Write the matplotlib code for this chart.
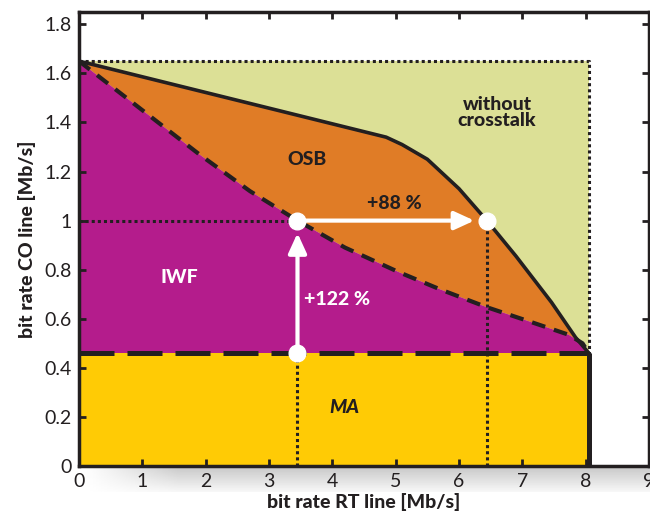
import numpy as np
import matplotlib
matplotlib.use('Agg')
import matplotlib.pyplot as plt

plt.rcParams['font.family'] = ['Lato', 'DejaVu Sans']

# operating limits
rt_max = 8.05          # max RT rate (without crosstalk)
co_max = 1.65          # max CO rate (without crosstalk)
ma_rate = 0.46         # MA rate on CO line

# OSB boundary (solid curve)
osb_x = [0.0, 4.85, 5.1, 5.5, 6.0, 6.44, 6.9, 7.46, 7.84, 8.05]
osb_y = [1.65, 1.34, 1.31, 1.25, 1.13, 1.0, 0.855, 0.667, 0.524, 0.46]

# IWF boundary (dashed curve)
iwf_x = [0.0, 1.0, 1.9, 2.7, 3.45, 4.2, 5.05, 5.7, 6.44, 7.1, 7.73, 7.95, 8.05]
iwf_y = [1.65, 1.45, 1.27, 1.12, 1.0, 0.89, 0.79, 0.72, 0.647, 0.59, 0.535, 0.5, 0.46]

# operating points
pt_x = [3.45, 3.45, 6.44]
pt_y = [0.46, 1.0, 1.0]

green = '#dce096'
orange = '#e07c26'
magenta = '#b41c8c'
yellow = '#ffcb05'
ink = '#231f20'

fig = plt.figure(figsize=(6.5, 5.18), dpi=100)

# grey shadow band under the x axis
sh = fig.add_axes([0.128, 0.05, 0.872, 0.05])
grad = np.linspace(0.78, 0.97, 40).reshape(-1, 1) * np.ones((1, 200))
fade = np.clip(np.linspace(0, 6, 200), 0, 1)
img = 1 - (1 - grad) * fade
sh.imshow(img, cmap='gray', vmin=0, vmax=1, aspect='auto')
sh.axis('off')

ax = fig.add_axes([0.1215, 0.1004, 0.877, 0.8764])

# regions
ax.fill([0, rt_max, rt_max, 0], [ma_rate, ma_rate, co_max, co_max], color=green, lw=0)
ax.fill(osb_x + iwf_x[::-1], osb_y + iwf_y[::-1], color=orange, lw=0)
ax.fill(iwf_x + [rt_max, 0], iwf_y + [ma_rate, ma_rate], color=magenta, lw=0)
ax.fill([0, rt_max, rt_max, 0], [0, 0, ma_rate, ma_rate], color=yellow, lw=0)

# dotted guides
dot = dict(color=ink, lw=2.2, dashes=(1, 1))
ax.plot([0, rt_max, rt_max], [co_max, co_max, ma_rate], **dot)
ax.plot([0, pt_x[1]], [pt_y[1], pt_y[1]], **dot)
ax.plot([pt_x[0], pt_x[0]], [0, pt_y[0]], **dot)
ax.plot([pt_x[2], pt_x[2]], [0, pt_y[2]], **dot)

# boundaries
ax.plot([0, rt_max], [ma_rate, ma_rate], color=ink, lw=3.6, dashes=(7, 2.6))
ax.plot([rt_max, rt_max], [0, ma_rate], color=ink, lw=3.6, solid_capstyle='butt')
ax.plot(iwf_x, iwf_y, color=ink, lw=3, dashes=(3.3, 2.2))
ax.plot(osb_x, osb_y, color=ink, lw=2.6, solid_joinstyle='round')

# arrows
arw = dict(arrowstyle='-|>,head_length=1.2,head_width=0.55', color='white', lw=3,
           shrinkA=0, shrinkB=9)
ax.annotate('', xy=(pt_x[1], pt_y[1]), xytext=(pt_x[0], pt_y[0]), arrowprops=arw)
ax.annotate('', xy=(pt_x[2], pt_y[2]), xytext=(pt_x[1], pt_y[1]), arrowprops=arw)
ax.plot(pt_x, pt_y, 'o', color='white', ms=12, mec='white', zorder=5)

# labels
txt = dict(fontsize=14, fontweight='black', color=ink)
ax.text(3.6, 1.25, 'OSB', ha='center', va='center', **txt)
ax.text(6.6, 1.44, 'without\ncrosstalk', ha='center', va='center', linespacing=0.95, **txt)
ax.text(4.98, 1.07, '+88 %', ha='center', va='center', **txt)
ax.text(3.56, 0.68, '+122 %', ha='left', va='center', fontsize=14, fontweight='black', color='white')
ax.text(1.59, 0.77, 'IWF', ha='center', va='center', fontsize=14, fontweight='black', color='white')
ax.text(4.19, 0.24, 'MA', ha='center', va='center', fontstyle='italic', **txt)

ax.set_xlim(0, 9)
ax.set_ylim(0, 1.85)
ax.set_xticks(range(0, 10))
ax.set_yticks([0, 0.2, 0.4, 0.6, 0.8, 1.0, 1.2, 1.4, 1.6, 1.8])
ax.set_yticklabels(['0', '0.2', '0.4', '0.6', '0.8', '1', '1.2', '1.4', '1.6', '1.8'])
ax.tick_params(direction='in', length=5, width=2, top=True, right=True,
               labelsize=14, colors=ink, pad=5)
for s in ax.spines.values():
    s.set_linewidth(2.5)
    s.set_color(ink)

ax.set_xlabel('bit rate RT line [Mb/s]', fontsize=14, fontweight='black', color=ink, labelpad=2)
ax.set_ylabel('bit rate CO line [Mb/s]', fontsize=14, fontweight='black', color=ink, labelpad=6)

fig.savefig('out.png', dpi=100)
